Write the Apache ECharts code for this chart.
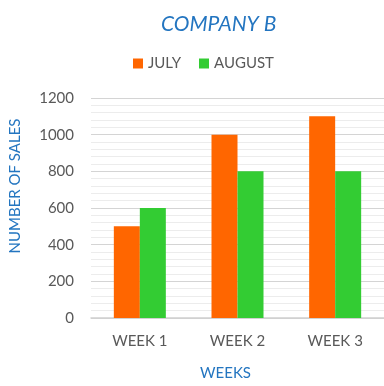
<!DOCTYPE html>
<html><head><meta charset="utf-8">
<script src="https://cdn.jsdelivr.net/npm/echarts@6/dist/echarts.min.js"></script>
<style>html,body{margin:0;padding:0;background:#fff}#c{width:384px;height:386px}</style>
</head><body><div id="c"></div>
<script>
const categories = ['WEEK 1', 'WEEK 2', 'WEEK 3'];
const july = [500, 1000, 1100];
const august = [600, 800, 800];
const seriesNames = ['JULY', 'AUGUST'];
const yTicks = [0, 200, 400, 600, 800, 1000, 1200];

const chart = echarts.init(document.getElementById('c'), null, {renderer: 'canvas'});
const font = 'Lato, "Open Sans", sans-serif';
chart.setOption({
  animation: false,
  backgroundColor: '#fff',
  title: {
    text: 'COMPANY B', left: 156, top: 9,
    textStyle: {color: '#2375C0', fontSize: 21, fontStyle: 'italic', fontWeight: 'normal', fontFamily: font}
  },
  legend: {
    data: seriesNames, left: 128, top: 51, itemWidth: 10, itemHeight: 10, itemGap: 18,
    icon: 'rect',
    textStyle: {color: '#595959', fontSize: 15, fontFamily: font}
  },
  grid: {left: 87, right: -9, top: 98, bottom: 64, containLabel: false},
  xAxis: {
    type: 'category', data: categories,
    name: 'WEEKS', nameLocation: 'middle', nameGap: 48,
    nameTextStyle: {color: '#2375C0', fontSize: 15, fontFamily: font, padding: [0, 24, 0, 0]},
    axisLine: {lineStyle: {color: '#d0d0d0', width: 1.5}},
    axisTick: {show: false},
    axisLabel: {color: '#595959', fontSize: 15, fontFamily: font, margin: 16}
  },
  yAxis: {
    type: 'value', min: yTicks[0], max: yTicks[yTicks.length - 1], interval: 200,
    name: 'NUMBER OF SALES', nameLocation: 'middle', nameGap: 68,
    nameTextStyle: {color: '#2375C0', fontSize: 15, fontFamily: font, padding: [0, 0, 0, 44]},
    axisLine: {show: false}, axisTick: {show: false},
    axisLabel: {color: '#595959', fontSize: 15, fontFamily: font, margin: 17, formatter: v => String(v)},
    splitLine: {lineStyle: {color: '#d4d4d4', width: 1}},
    minorTick: {show: false, splitNumber: 5},
    minorSplitLine: {show: true, lineStyle: {color: '#ececec', width: 1}}
  },
  series: [
    {name: seriesNames[0], type: 'bar', data: july, barWidth: 26, barGap: '0%', itemStyle: {color: '#FF6600'}},
    {name: seriesNames[1], type: 'bar', data: august, barWidth: 26, barGap: '0%', itemStyle: {color: '#33CC33'}}
  ]
});
</script></body></html>
